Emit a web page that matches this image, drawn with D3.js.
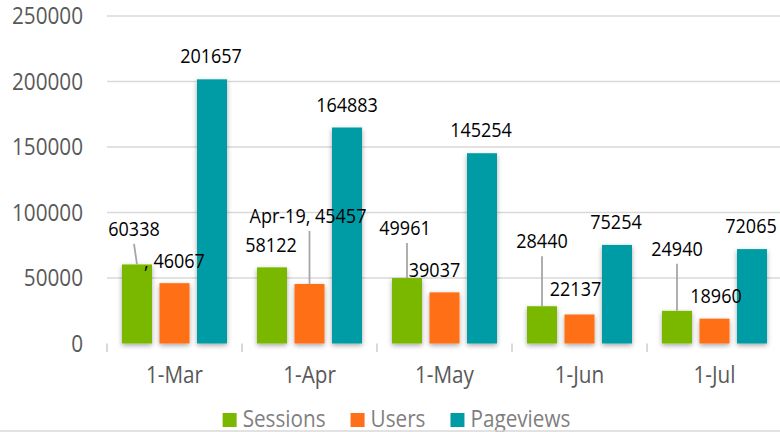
<!DOCTYPE html>
<html>
<head>
<meta charset="utf-8">
<script src="https://cdn.jsdelivr.net/npm/d3@7/dist/d3.min.js"></script>
<style>
  html, body { margin: 0; padding: 0; background: #fff; }
  svg { display: block; font-family: "Open Sans", "Noto Sans", sans-serif; }
</style>
</head>
<body>
<svg id="chart" width="780" height="432"></svg>
<script>
// ---- data ----
const categories = ["1-Mar", "1-Apr", "1-May", "1-Jun", "1-Jul"];
const seriesNames = ["Sessions", "Users", "Pageviews"];
const sessions  = [60338, 58122, 49961, 28440, 24940];
const users     = [46067, 45457, 39037, 22137, 18960];
const pageviews = [201657, 164883, 145254, 75254, 72065];
const yTicks = [0, 50000, 100000, 150000, 200000, 250000];
// label texts as shown in the picture
const sessionLabels  = ["60338", "58122", "49961", "28440", "24940"];
const userLabels     = [", 46067", "Apr-19, 45457", "39037", "22137", "18960"];
const pageviewLabels = ["201657", "164883", "145254", "75254", "72065"];

// ---- layout / style (kept apart from data) ----
const colors = { Sessions: "#7ab800", Users: "#ff6f19", Pageviews: "#009ca6" };
// label offsets relative to bar top centre: [dx, dy(baseline), leader]
const labelLayout = {
  Sessions:  [[-3, -28.5, true], [-1, -15.4, false], [-2, -43, true], [0, -58, true], [0, -55, true]],
  Users:     [[0, -15, false], [-1.5, -61, true], [-10, -15.4, false], [-4, -18.5, false], [1.5, -15.7, false]],
  Pageviews: [[-1, -16.3, false], [0, -15.5, false], [-1, -16, false], [-1, -16, false], [-1, -16, false]]
};
const SX = 0.9; // horizontal text compression to match reference glyph widths

const svg = d3.select("#chart");
const defs = svg.append("defs");
const f = defs.append("filter").attr("id", "shadow")
  .attr("x", "-30%").attr("y", "-10%").attr("width", "160%").attr("height", "130%");
f.append("feDropShadow").attr("dx", 0).attr("dy", 2).attr("stdDeviation", 2.5)
  .attr("flood-color", "#000").attr("flood-opacity", 0.35);

const plotLeft = 107, plotRight = 782, plotTop = 16, plotBottom = 343.5;

const x0 = d3.scaleBand().domain(categories).range([plotLeft, plotRight]).paddingInner(0).paddingOuter(0);
const x1 = d3.scaleBand().domain(seriesNames).range([15, 120]).paddingInner(0.2).paddingOuter(0);
const y = d3.scaleLinear().domain([0, 250000]).range([plotBottom, plotTop]);

const valuesBySeries = { Sessions: sessions, Users: users, Pageviews: pageviews };
const labelsBySeries = { Sessions: sessionLabels, Users: userLabels, Pageviews: pageviewLabels };

// gridlines
svg.append("g").selectAll("line").data(yTicks.filter(d => d > 0)).join("line")
  .attr("x1", plotLeft).attr("x2", 780)
  .attr("y1", d => y(d)).attr("y2", d => y(d))
  .attr("stroke", "#d9d9d9").attr("stroke-width", 1.6);

// y axis labels
const yAxis = svg.append("g").attr("transform", `translate(${plotLeft},0)`)
  .call(d3.axisLeft(y).tickValues(yTicks).tickFormat(d3.format("d")).tickSize(0));
yAxis.select(".domain").remove();
yAxis.selectAll("text")
  .attr("x", 0).attr("dy", null)
  .attr("transform", `translate(-24,7.8) scale(${SX},1)`)
  .attr("font-size", 23).attr("font-family", "Open Sans, sans-serif")
  .attr("fill", "#595959").attr("text-anchor", "end");

// bars
const barsG = svg.append("g");
seriesNames.forEach(s => {
  barsG.append("g").selectAll("rect").data(categories).join("rect")
    .attr("x", (c) => x0(c) + x1(s))
    .attr("width", x1.bandwidth())
    .attr("y", (c, i) => y(valuesBySeries[s][i]))
    .attr("height", (c, i) => plotBottom - y(valuesBySeries[s][i]))
    .attr("fill", colors[s])
    .attr("filter", "url(#shadow)");
});

// x axis
const xAxisG = svg.append("g").attr("transform", `translate(0,${plotBottom})`)
  .call(d3.axisBottom(x0).tickSize(0).tickPadding(0));
xAxisG.select(".domain").remove();
xAxisG.insert("line", ":first-child")
  .attr("x1", plotLeft).attr("x2", plotRight).attr("y1", 0).attr("y2", 0)
  .attr("stroke", "#d9d9d9").attr("stroke-width", 2.5).attr("filter", "url(#shadow)");
xAxisG.selectAll(".boundary").data(categories.map(c => x0(c)).concat([plotRight])).join("line")
  .attr("class", "boundary")
  .attr("x1", d => d).attr("x2", d => d).attr("y1", 0).attr("y2", 8.5)
  .attr("stroke", "#d9d9d9").attr("stroke-width", 2);
xAxisG.selectAll(".tick text")
  .attr("y", 0).attr("dy", null)
  .attr("transform", `translate(0,39.5) scale(${SX},1)`)
  .attr("font-size", 23).attr("font-family", "Open Sans, sans-serif")
  .attr("fill", "#595959");

// data labels & leader lines
const labG = svg.append("g");
seriesNames.forEach(s => {
  categories.forEach((c, i) => {
    const v = valuesBySeries[s][i];
    const bx = x0(c) + x1(s) + x1.bandwidth() / 2;
    const by = y(v);
    const [dx, dy, leader] = labelLayout[s][i];
    const lx = bx + dx, ly = by + dy;
    if (leader) {
      const topX = Math.abs(dx) >= 3 ? lx : bx;
      labG.append("line")
        .attr("x1", topX).attr("y1", ly + 8)
        .attr("x2", bx).attr("y2", by)
        .attr("stroke", "#a6a6a6").attr("stroke-width", 1.8);
    }
    labG.append("text")
      .attr("transform", `translate(${lx},${ly}) scale(${SX},1)`)
      .attr("text-anchor", "middle")
      .attr("font-size", 20)
      .attr("fill", "#000")
      .text(labelsBySeries[s][i]);
  });
});

// legend
const legend = svg.append("g");
const items = [];
seriesNames.forEach(s => {
  const g = legend.append("g");
  g.append("rect").attr("x", 0).attr("y", 413).attr("width", 14).attr("height", 14).attr("fill", colors[s]);
  const t = g.append("text").attr("transform", `translate(20,427) scale(${SX},1)`)
    .attr("font-size", 23).attr("fill", "#7f7f7f").text(s);
  const w = 20 + t.node().getComputedTextLength() * SX;
  items.push({ g, w });
});
const gap = 25;
const total = d3.sum(items, d => d.w) + gap * (items.length - 1);
let cx = 222 + (349 - total) / 2;
items.forEach(it => { it.g.attr("transform", `translate(${cx},0)`); cx += it.w + gap; });

// bottom border
svg.append("line").attr("x1", 0).attr("x2", 780).attr("y1", 431).attr("y2", 431)
  .attr("stroke", "#d9d9d9").attr("stroke-width", 1.5);
</script>
</body>
</html>
